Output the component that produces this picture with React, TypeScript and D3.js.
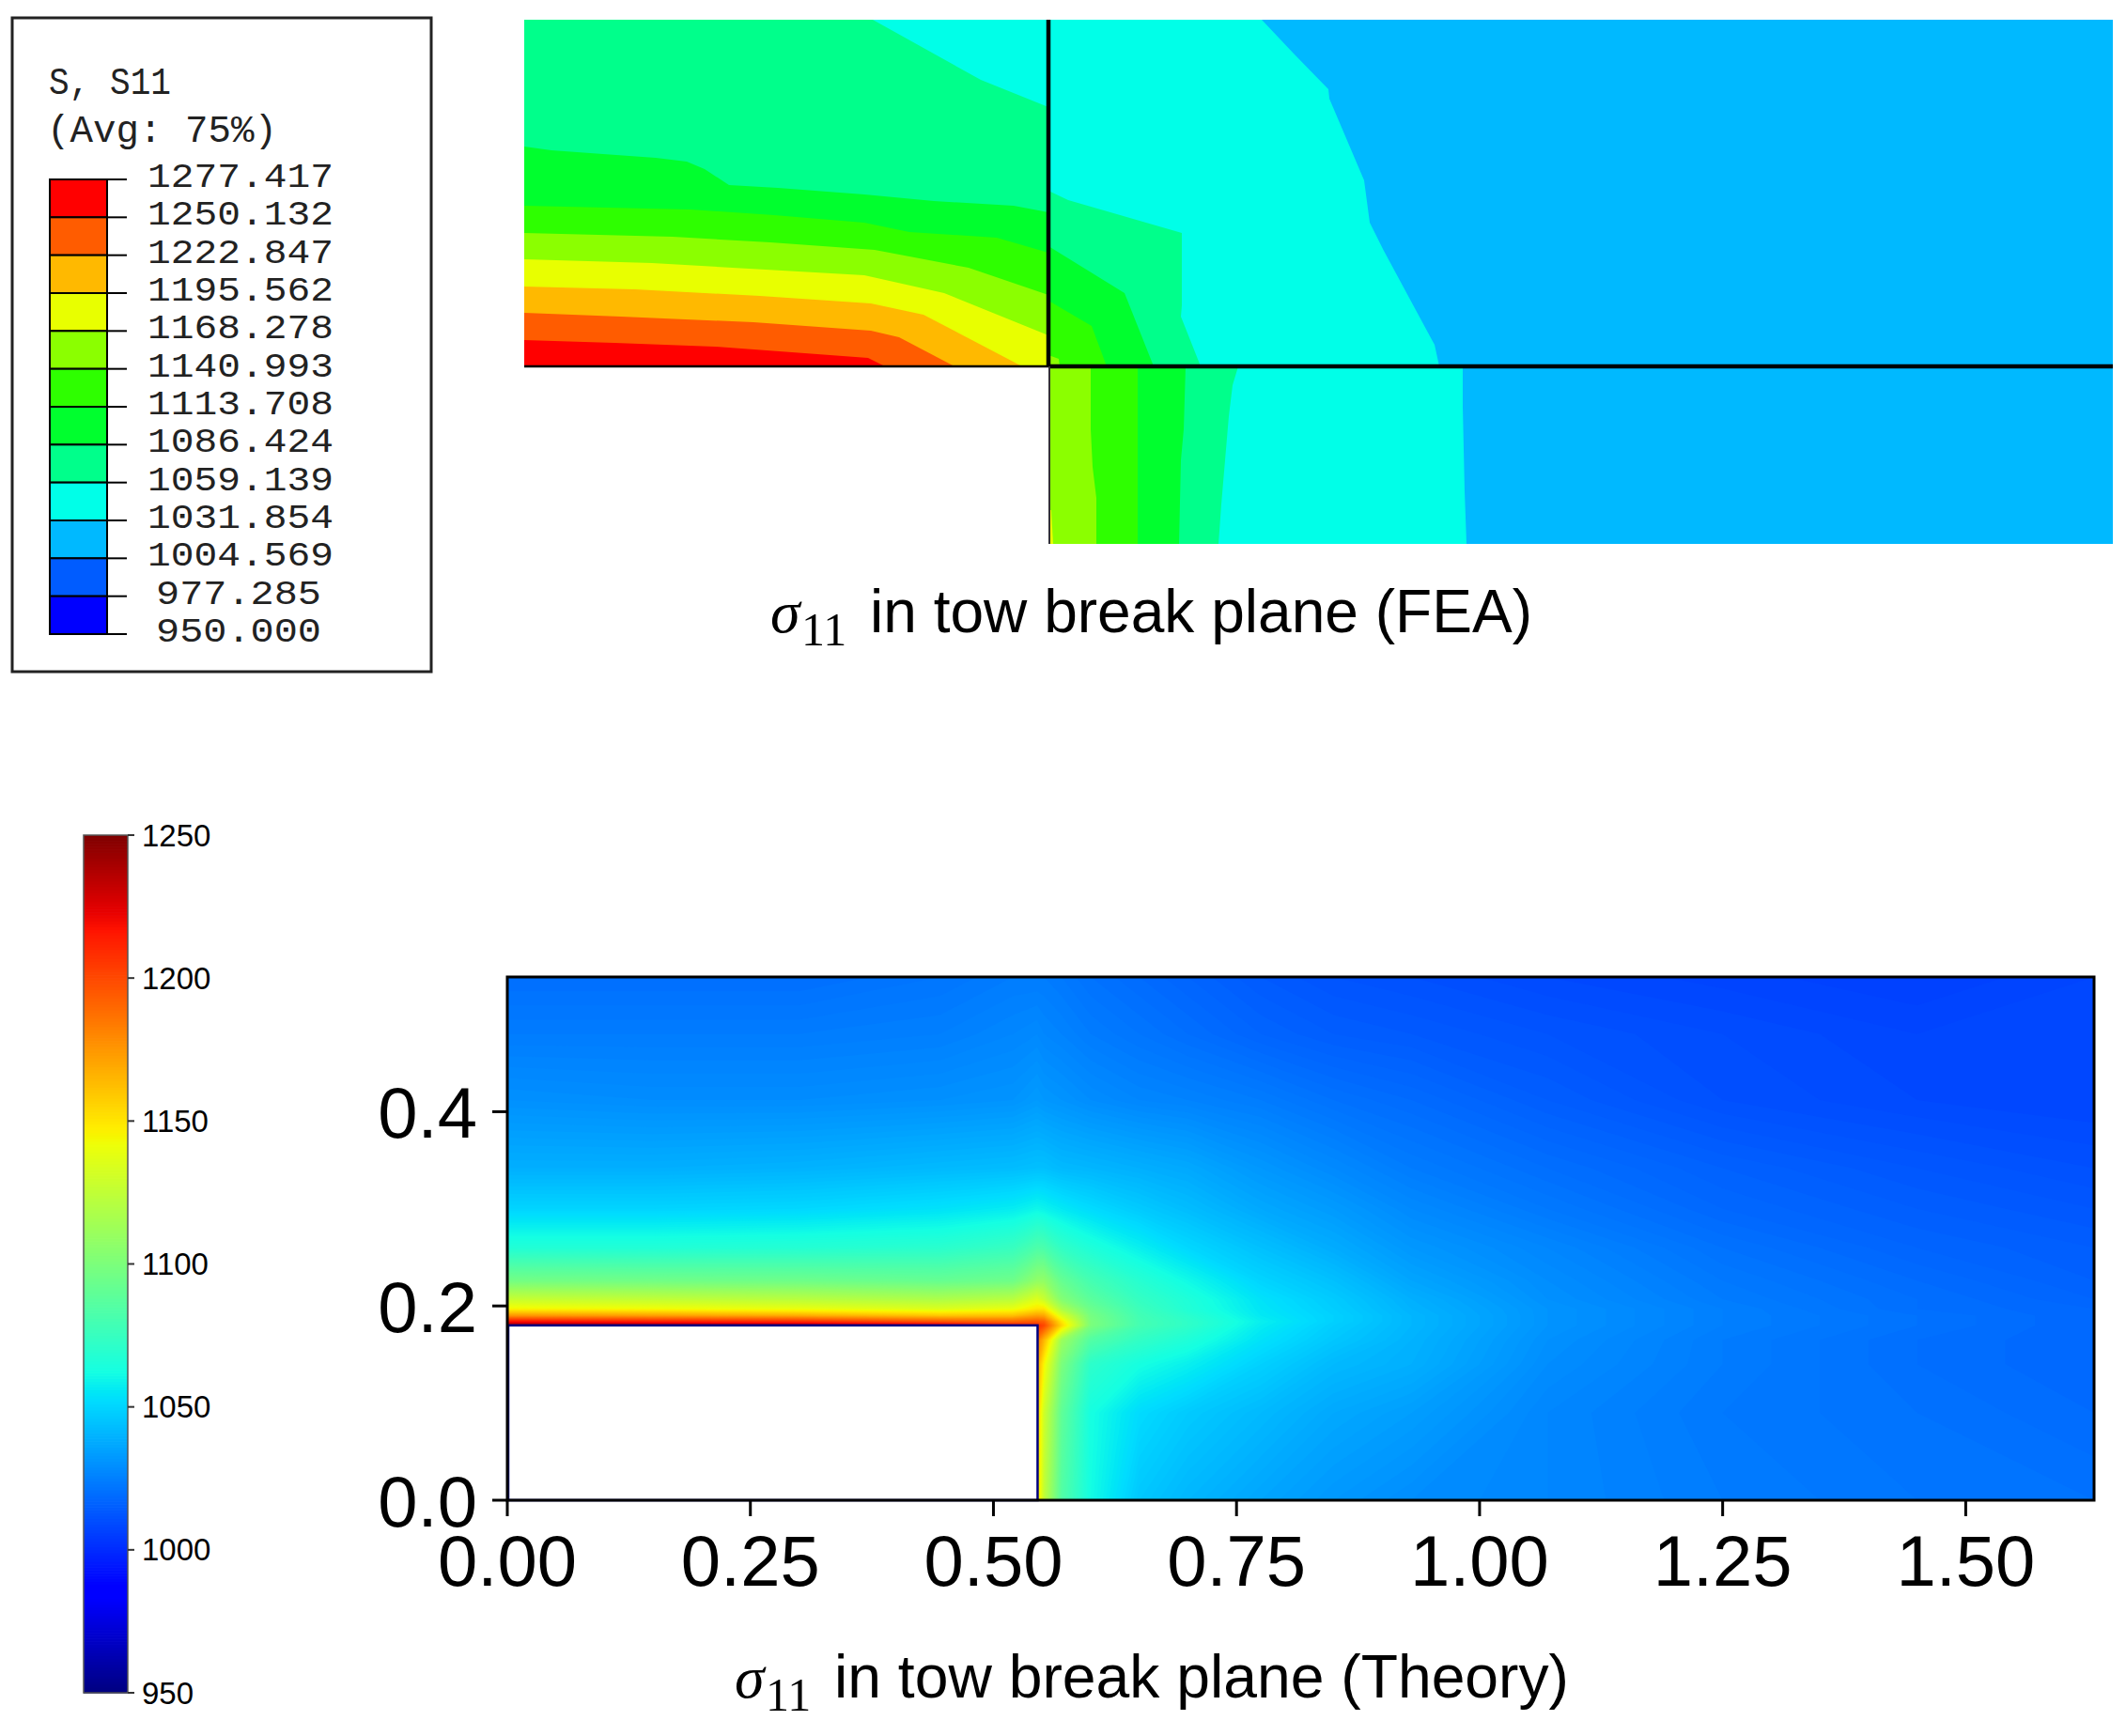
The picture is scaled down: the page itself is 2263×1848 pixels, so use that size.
import React from "react";
import * as d3 from "d3";

// ---------- FEA legend ----------
const feaLegendLabels = ["1277.417","1250.132","1222.847","1195.562","1168.278","1140.993","1113.708","1086.424","1059.139","1031.854","1004.569","977.285","950.000"];
const feaBandColors = ["#ff0000","#ff5c00","#ffb900","#e8ff00","#8bff00","#2eff00","#00ff2e","#00ff8b","#00ffe8","#00b9ff","#005cff","#0000ff"];
const legendTitle = ["S, S11", "(Avg: 75%)"];

// ---------- FEA field: iso-boundaries in model grid units (x right, y up) ----------
type P = [number, number];
const feaExtent: P = [1691, 558];
const breakX = 558;
const breakY = 189;

const leftCyan: P[] = [[0,558],[558,558]];
const leftTeal: P[] = [[0,558],[371,558],[486,494],[558,465]];
const leftGreen: P[] = [[0,423],[29,419],[84,415],[140,411],[173,407],[192,399],[218,382],[270,379],[362,372],[436,365],[521,360],[558,353]];
const leftBright: P[] = [[0,360],[177,356],[266,350],[362,342],[410,332],[503,326],[558,310]];
const leftLime: P[] = [[0,331],[158,327],[262,321],[373,313],[473,294],[558,265]];
const leftYellow: P[] = [[0,303],[136,299],[257,292],[362,286],[447,267],[558,222]];
const leftAmber: P[] = [[0,274],[118,271],[251,264],[369,256],[425,244],[530,189]];
const leftOrange: P[] = [[0,246],[103,242],[244,236],[369,227],[399,220],[458,189]];
const leftRed: P[] = [[0,217],[96,214],[203,210],[366,198],[384,189]];

const rightCyan: P[] = [[558,558],[785,558],[819,522],[856,484],[857,474],[894,387],[900,342],[915,312],[969,212],[974,189]];
const rightTeal: P[] = [[558,376],[579,366],[700,331],[700,254],[699,242],[720,189]];
const rightGreen: P[] = [[558,317],[639,267],[670,189]];
const rightBright: P[] = [[558,259],[604,232],[620,189]];
const rightLime: P[] = [[558,201],[569,197],[570,189]];

const lowerCyan: P[] = [[999,189],[999,146],[1001,56],[1003,0]];
const lowerTeal: P[] = [[760,189],[754,169],[750,136],[746,89],[742,42],[739,0]];
const lowerGreen: P[] = [[704,189],[702,122],[699,89],[697,0]];
const lowerBright: P[] = [[653,189],[653,0]];
const lowerLime: P[] = [[603,189],[603,122],[605,82],[609,49],[609,0]];
const lowerYellow: P[] = [[558,36],[561,36],[563,0]];

// ---------- Theory field: stress read at grid knots (rows top to bottom) ----------
const thX = [0,0.15,0.3,0.445,0.52,0.545,0.552,0.57,0.6,0.65,0.7,0.775,0.85,0.93,1.07,1.25,1.45,1.632];
const thY = [0.5387,0.48,0.412,0.342,0.3,0.26,0.226,0.207,0.197,0.19,0.184,0.18,0.165,0.14,0.09,0];
const th0 = [1020,1020,1020,1022,1024,1024,1024,1023,1021,1019,1017,1014,1012,1011,1009,1007.5,1006,1008];
const th1 = [1024,1024,1024,1025,1027,1028,1027,1026,1024,1022,1020,1017,1015,1014,1012,1010,1008,1009];
const th2 = [1030,1029,1029,1030,1031,1033,1032,1031,1029,1027,1026,1024,1021,1019,1015,1011,1009,1008];
const th3 = [1039,1039,1040,1042,1043,1044,1044,1042,1041,1039,1037,1032,1028,1024,1020,1016,1013,1011];
const th4 = [1050,1050,1051,1054,1057,1060,1059,1056,1052,1047,1043,1037,1033,1028,1023,1018,1015,1013];
const th5 = [1067,1067,1068,1070,1075,1083,1082,1073,1066,1058,1051,1044,1038,1032,1027,1021,1017,1015];
const th6 = [1097,1096,1095,1092,1095,1108,1108,1092,1080,1069,1061,1050,1044,1036,1029,1023,1019,1016];
const th7 = [1127,1125,1122,1118,1122,1135,1128,1103,1088,1074,1066,1054,1047,1039,1030,1024,1020,1017];
const th8 = [1145,1143,1140,1135,1140,1150,1150,1118,1094,1077,1067,1055,1048,1040,1031,1025,1020,1018];
const th9 = [1175,1172,1168,1160,1162,1172,1170,1135,1098,1079,1070,1056,1049,1041,1031,1025,1021,1018];
const th10 = [1217,1212,1208,1195,1190,1195,1192,1150,1100,1080,1072,1058,1049,1041,1031,1025,1021,1018];
const th11 = [1240,1238,1235,1225,1212,1208,1200,1155,1100,1080,1072,1057,1048,1041,1031,1025,1021,1018];
const th12 = [1240,1240,1235,1225,1212,1185,1165,1112,1085,1073,1066,1054,1046,1040,1030,1024,1020,1018];
const th13 = [1240,1240,1235,1225,1212,1170,1145,1100,1071,1063,1058,1049,1042,1039,1029,1024,1020,1018];
const th14 = [1240,1240,1235,1225,1212,1160,1130,1090,1063,1052,1047,1042,1037,1034,1027,1023,1021,1019];
const th15 = [1240,1240,1235,1225,1212,1155,1125,1085,1062,1046,1041,1036,1032,1029,1027,1024,1022,1021];
const thRows = [th0,th1,th2,th3,th4,th5,th6,th7,th8,th9,th10,th11,th12,th13,th14,th15];
const holeCorner: P = [0.5454, 0.18];

const xTickVals = [0,0.25,0.5,0.75,1,1.25,1.5];
const xTickLabels = ["0.00","0.25","0.50","0.75","1.00","1.25","1.50"];
const yTickVals = [0,0.2,0.4];
const yTickLabels = ["0.0","0.2","0.4"];
const cbarTicks = [950,1000,1050,1100,1150,1200,1250];

// jet colormap stops
const jetR: P[] = [[0,0],[0.35,0],[0.66,1],[0.89,1],[1,0.5]];
const jetG: P[] = [[0,0],[0.125,0],[0.375,1],[0.64,1],[0.91,0],[1,0]];
const jetB: P[] = [[0,0.5],[0.11,1],[0.34,1],[0.65,0],[1,0]];
const chan = (s: P[]) => d3.scaleLinear().domain(s.map(d => d[0])).range(s.map(d => d[1])).clamp(true);
const cr = chan(jetR), cg = chan(jetG), cb = chan(jetB);
const valueT = d3.scaleLinear().domain([950,1250]).range([0,1]).clamp(true);
const jet = (v: number) => {
  const t = valueT(v);
  return `rgb(${Math.round(cr(t)*255)},${Math.round(cg(t)*255)},${Math.round(cb(t)*255)})`;
};

const SANS = "'Liberation Sans', Arial, sans-serif";
const SERIF = "'Liberation Serif', serif";
const MONO = "'Liberation Mono', monospace";

function Title({ sx, sy, rest, width }: { sx: number; sy: number; rest: string; width: number }) {
  return (
    <g fill="#000">
      <text x={sx} y={sy} fontFamily={SERIF} fontStyle="italic" fontSize={64}>σ</text>
      <text x={sx + 33} y={sy + 14} fontFamily={SERIF} fontSize={50}>11</text>
      <text x={sx + 106} y={sy} fontFamily={SANS} fontSize={64.5} textLength={width} lengthAdjust="spacingAndGlyphs">{rest}</text>
    </g>
  );
}

export default function App() {
  // FEA scales
  const fx = d3.scaleLinear().domain([0, feaExtent[0]]).range([558, 2249]);
  const fy = d3.scaleLinear().domain([0, feaExtent[1]]).range([579, 21]);
  const line = d3.line<P>().x(d => fx(d[0])).y(d => fy(d[1]));
  const closeLeft = (p: P[]): P[] => [...p, [p[p.length-1][0], breakY], [0, breakY]];
  const closeRight = (p: P[]): P[] => [...p, [p[p.length-1][0], breakY], [breakX, breakY]];
  const closeLower = (p: P[]): P[] => [...p, [breakX, p[p.length-1][1]], [breakX, p[0][1]]];
  const feaPolys: { pts: P[]; band: number }[] = [
    { pts: closeLeft(leftCyan), band: 8 },
    { pts: closeLeft(leftTeal), band: 7 },
    { pts: closeLeft(leftGreen), band: 6 },
    { pts: closeLeft(leftBright), band: 5 },
    { pts: closeLeft(leftLime), band: 4 },
    { pts: closeLeft(leftYellow), band: 3 },
    { pts: closeLeft(leftAmber), band: 2 },
    { pts: closeLeft(leftOrange), band: 1 },
    { pts: closeLeft(leftRed), band: 0 },
    { pts: closeRight(rightCyan), band: 8 },
    { pts: closeRight(rightTeal), band: 7 },
    { pts: closeRight(rightGreen), band: 6 },
    { pts: closeRight(rightBright), band: 5 },
    { pts: closeRight(rightLime), band: 4 },
    { pts: closeLower(lowerCyan), band: 8 },
    { pts: closeLower(lowerTeal), band: 7 },
    { pts: closeLower(lowerGreen), band: 6 },
    { pts: closeLower(lowerBright), band: 5 },
    { pts: closeLower(lowerLime), band: 4 },
    { pts: closeLower(lowerYellow), band: 3 },
  ];

  // Legend scale
  const legY = d3.scaleLinear().domain([0, feaBandColors.length]).range([191, 675]);

  // Theory scales
  const tx = d3.scaleLinear().domain([0, 1.632]).range([540, 2229]);
  const ty = d3.scaleLinear().domain([0, 0.5387]).range([1597, 1040]);
  const idxX = d3.scaleLinear().domain(thX.map((_, i) => i + 0.5)).range(thX.map(v => tx(v))).clamp(true);
  const idxY = d3.scaleLinear().domain(thY.map((_, i) => i + 0.5)).range(thY.map(v => ty(v))).clamp(true);
  const path = d3.geoPath(d3.geoTransform({
    point(x: number, y: number) { (this as any).stream.point(idxX(x), idxY(y)); },
  }));
  const flat = thRows.flat();
  const levels = d3.range(1000, 1250, 1);
  const bands = d3.contours().size([thX.length, thY.length]).thresholds(levels)(flat)
    .filter(c => c.coordinates.length > 0);

  // Colour bar scale
  const cy = d3.scaleLinear().domain([950, 1250]).range([1802, 889]);
  const cbarVals = d3.range(950, 1250, 1);

  return (
    <svg width={2263} height={1848} viewBox="0 0 2263 1848"
      style={{ position: "absolute", left: 0, top: 0, display: "block", background: "#fff" }}>
      {/* FEA legend */}
      <rect x={13} y={19} width={446} height={696} fill="#fff" stroke="#222" strokeWidth={3} />
      <g fontFamily={MONO} fill="#222" fontSize={40}>
        <text x={52} y={100} textLength={130} lengthAdjust="spacingAndGlyphs">{legendTitle[0]}</text>
        <text x={50} y={151} textLength={245} lengthAdjust="spacingAndGlyphs">{legendTitle[1]}</text>
        {feaLegendLabels.map((l, i) => (
          <text key={l} x={l.length === 8 ? 157 : 166} y={legY(i) + 8} fontSize={36}
            textLength={l.length === 8 ? 198 : 176} lengthAdjust="spacingAndGlyphs">{l}</text>
        ))}
      </g>
      {feaBandColors.map((c, i) => (
        <rect key={c} x={53} y={legY(i)} width={61} height={legY(i + 1) - legY(i)} fill={c} stroke="#000" strokeWidth={2} />
      ))}
      {feaLegendLabels.map((l, i) => (
        <line key={l} x1={114} x2={135} y1={legY(i)} y2={legY(i)} stroke="#000" strokeWidth={2} />
      ))}

      {/* FEA field */}
      <rect x={fx(0)} y={fy(feaExtent[1])} width={fx(feaExtent[0]) - fx(0)} height={fy(breakY) - fy(feaExtent[1])} fill={feaBandColors[9]} />
      <rect x={fx(breakX)} y={fy(breakY)} width={fx(feaExtent[0]) - fx(breakX)} height={fy(0) - fy(breakY)} fill={feaBandColors[9]} />
      {feaPolys.map((p, i) => (
        <path key={i} d={(line(p.pts) as string) + "Z"} fill={feaBandColors[p.band]} />
      ))}
      <line x1={fx(0)} x2={fx(breakX)} y1={fy(breakY)} y2={fy(breakY)} stroke="#000" strokeWidth={2.5} />
      <line x1={fx(breakX)} x2={fx(breakX)} y1={fy(feaExtent[1])} y2={fy(breakY)} stroke="#000" strokeWidth={4.5} />
      <line x1={fx(breakX)} x2={fx(feaExtent[0])} y1={fy(breakY)} y2={fy(breakY)} stroke="#000" strokeWidth={4.5} />
      <line x1={fx(breakX) + 1} x2={fx(breakX) + 1} y1={fy(breakY)} y2={fy(0)} stroke="#333" strokeWidth={2} />
      <Title sx={820} sy={673} rest="in tow break plane (FEA)" width={705} />

      {/* Colour bar */}
      {cbarVals.map(v => (
        <rect key={v} x={89} width={47} y={cy(v + 1)} height={cy(v) - cy(v + 1) + 0.7} fill={jet(v + 0.5)} />
      ))}
      <rect x={89} y={cy(1250)} width={47} height={cy(950) - cy(1250)} fill="none" stroke="#555" strokeWidth={1.5} />
      {cbarTicks.map(t => (
        <g key={t}>
          <line x1={136} x2={143} y1={cy(t)} y2={cy(t)} stroke="#333" strokeWidth={2} />
          <text x={151} y={cy(t) + 11.5} fontFamily={SANS} fontSize={33} fill="#000">{t}</text>
        </g>
      ))}

      {/* Theory field */}
      <rect x={tx(0)} y={ty(0.5387)} width={tx(1.632) - tx(0)} height={ty(0) - ty(0.5387)} fill={jet(1006)} />
      {bands.map(b => (
        <path key={b.value} d={path(b as any) as string} fill={jet(b.value + 0.5)} />
      ))}
      <rect x={tx(0) + 1} y={ty(holeCorner[1])} width={tx(holeCorner[0]) - tx(0) - 1} height={ty(0) - ty(holeCorner[1])}
        fill="#fff" stroke="#00007f" strokeWidth={2.5} />
      <rect x={tx(0)} y={ty(0.5387)} width={tx(1.632) - tx(0)} height={ty(0) - ty(0.5387)} fill="none" stroke="#000" strokeWidth={3} />
      {xTickVals.map((t, i) => (
        <g key={t}>
          <line x1={tx(t)} x2={tx(t)} y1={1597} y2={1614} stroke="#000" strokeWidth={3} />
          <text x={tx(t)} y={1688} textAnchor="middle" fontFamily={SANS} fontSize={76} fill="#000">{xTickLabels[i]}</text>
        </g>
      ))}
      {yTickVals.map((t, i) => (
        <g key={t}>
          <line x1={524} x2={540} y1={ty(t)} y2={ty(t)} stroke="#000" strokeWidth={3} />
          <text x={508} y={ty(t) + 28} textAnchor="end" fontFamily={SANS} fontSize={76} fill="#000">{yTickLabels[i]}</text>
        </g>
      ))}
      <Title sx={782} sy={1807} rest="in tow break plane (Theory)" width={782} />
    </svg>
  );
}
